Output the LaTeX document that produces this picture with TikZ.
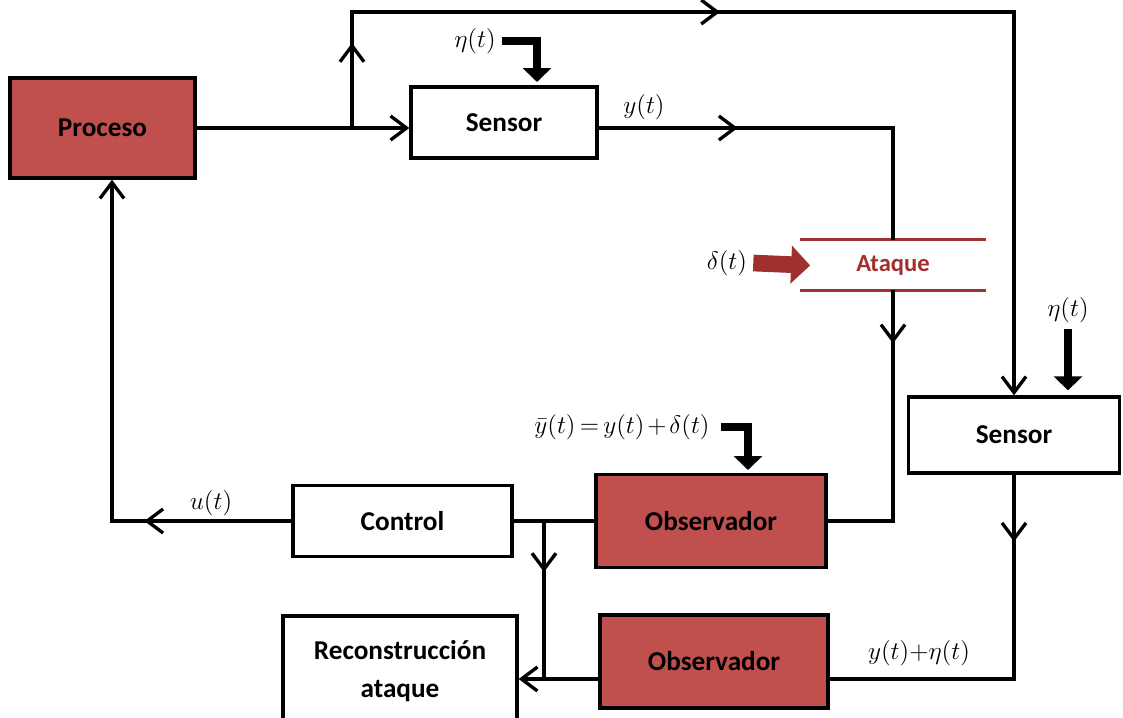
\documentclass[tikz,border=0pt]{standalone}
\usepackage[no-math]{fontspec}
\setmainfont{Carlito}
\usepackage{amsmath}
\usepackage{xcolor}
\usetikzlibrary{arrows.meta,positioning,calc,decorations.markings}

\definecolor{procred}{RGB}{192,80,77}
\definecolor{atkred}{RGB}{160,48,45}

\tikzset{barb/.tip={Straight Barb[length=3.2mm, width=4.8mm]}}

\begin{document}
\begin{tikzpicture}[
  box/.style={draw, rectangle, line width=1.9pt, align=center, fill=white, font=\fontsize{15.5}{21.5}\selectfont\bfseries},
  redbox/.style={box, fill=procred},
  lbl/.style={font=\fontsize{14}{16}\selectfont},
  wire/.style={line width=1.9pt},
  arrow/.style={wire, -barb},
  tipat/.style={postaction={decorate, decoration={markings, mark=at position #1 with {\arrow{barb}}}}},
  bigarrow/.style={line width=4.6pt, -{Triangle[length=2.8mm, width=5.6mm]}},
  atkarrow/.style={atkred, line width=9.5pt, -{Triangle[length=3.8mm, width=7.4mm]}}
]
\useasboundingbox (0,0) rectangle (22.46,-14.34);

% blocks
\node[redbox, minimum width=3.7cm, minimum height=2cm] (proc) at (2.05,-2.56) {Proceso};
\node[box, minimum width=3.72cm, minimum height=1.42cm] (sens1) at (10.08,-2.45) {Sensor};
\node[box, minimum width=4.22cm, minimum height=1.52cm] (sens2) at (20.28,-8.7) {Sensor};
\node[redbox, minimum width=4.6cm, minimum height=1.86cm] (obs1) at (14.22,-10.42) {Observador};
\node[box, minimum width=4.38cm, minimum height=1.42cm] (ctrl) at (8.05,-10.42) {Control};
\node[redbox, minimum width=4.56cm, minimum height=1.86cm] (obs2) at (14.28,-13.23) {Observador};
\node[box, minimum width=4.68cm, minimum height=2.2cm] (rec) at (8.0,-13.42) {Reconstrucción\\ataque};
\node[minimum width=3.7cm, minimum height=1cm, text=atkred, font=\fontsize{14}{16}\selectfont\bfseries] (atk) at (17.86,-5.3) {Ataque};
\draw[atkred, line width=1.9pt] (atk.north west) -- (atk.north east);
\draw[atkred, line width=1.9pt] (atk.south west) -- (atk.south east);

% signal labels
\node[lbl] (eta1) at (9.5,-0.82) {$\eta(t)$};
\node[lbl] (ylbl) at (12.88,-2.14) {$y(t)$};
\node[lbl] (delta) at (14.54,-5.26) {$\delta(t)$};
\node[lbl] (eta2) at (21.36,-6.2) {$\eta(t)$};
\node[font=\fontsize{13.5}{16}\selectfont, inner sep=2pt] (ybar) at (12.44,-8.54) {\thickmuskip=3mu\medmuskip=2mu$\bar{y}(t)=y(t)+\delta(t)$};
\node[lbl] (ulbl) at (4.22,-10.06) {$u(t)$};
\node[lbl] (yeta) at (18.38,-13.06) {$y(t){+}\eta(t)$};

\coordinate (tap) at (7.04,-2.56);
\coordinate (top) at (7.04,-0.24);
\coordinate (brA) at (10.88,-10.42);
\coordinate (low) at (20.28,-13.58);
\coordinate (fbk) at (2.24,-10.42);
\coordinate (etaIn1) at (10.74,-1.64);
\coordinate (ybIn) at (14.96,-9.4);

% connectors
\draw[arrow] (proc.east) -- (proc.east -| sens1.west);
\draw[arrow, tipat=1.7cm, tipat=9.68cm] (tap) -- (top) -- (top -| sens2.north) -- (sens2.north);
\draw[wire, tipat=2.78cm] (sens1.east |- tap) -| (atk.north);
\draw[wire, tipat=1.06cm] (atk.south) |- (obs1.east);
\draw[wire] (obs1.west) -- (ctrl.east);
\draw[arrow, tipat=2.94cm] (ctrl.west) -- (fbk) -- (fbk |- proc.south);
\draw[wire, tipat=1.02cm] (brA) -- (brA |- low);
\draw[arrow] (obs2.west |- low) -- (rec.east |- low);
\draw[wire, tipat=1.34cm] (sens2.south) -- (low) -- (obs2.east |- low);

% disturbances
\draw[bigarrow] (eta1.east) -| (etaIn1);
\draw[bigarrow, shorten <=1.5mm] (ybar.east) -| (ybIn);
\draw[bigarrow, shorten >=1mm] (eta2.south) -- (eta2.south |- sens2.north);
\draw[atkarrow, shorten >=-2mm] (delta.east) -- (atk.west);
\end{tikzpicture}
\end{document}
